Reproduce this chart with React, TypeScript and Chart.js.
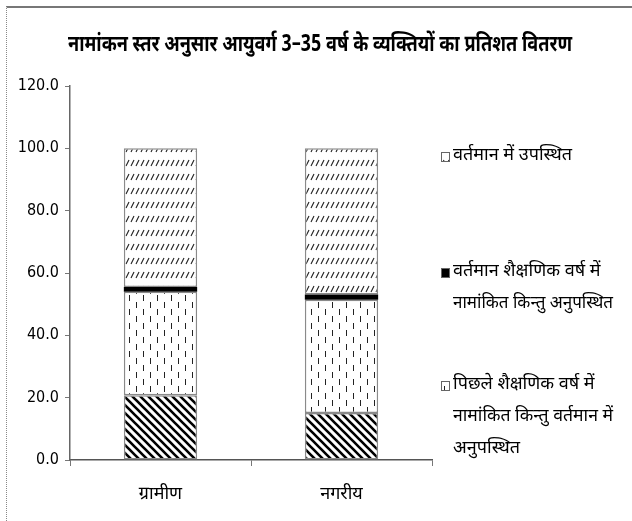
import React, { useEffect, useRef } from "react";
import Chart from "chart.js/auto";

const categories = ["ग्रामीण", "नगरीय"];
const neverEnrolled = [20.8, 15.1];
const prevYearEnrolledAbsent = [33.2, 36.3];
const currentYearEnrolledAbsent = [1.5, 1.7];
const currentlyPresent = [44.5, 46.9];
const titleText = "नामांकन स्तर अनुसार आयुवर्ग 3–35 वर्ष के व्यक्तियों का प्रतिशत वितरण";
const legendPresent = ["वर्तमान में उपस्थित"];
const legendCurrentAbsent = ["वर्तमान शैक्षणिक वर्ष में", "नामांकित किन्तु अनुपस्थित"];
const legendPrevAbsent = ["पिछले शैक्षणिक वर्ष में", "नामांकित किन्तु वर्तमान में", "अनुपस्थित"];
const yTicks = [0, 20, 40, 60, 80, 100, 120];

const FONT = "'Noto Sans Devanagari', 'Lohit Devanagari', 'Liberation Sans', sans-serif";
const NUMFONT = "'DejaVu Sans Condensed', 'Liberation Sans Narrow', 'Liberation Sans', sans-serif";

function makePattern(kind: string): CanvasPattern | string {
  const c = document.createElement("canvas");
  const ctx = c.getContext("2d")!;
  if (kind === "slash") {
    c.width = 5; c.height = 14;
    ctx.fillStyle = "#fff"; ctx.fillRect(0, 0, 5, 14);
    ctx.strokeStyle = "#222"; ctx.lineWidth = 1.1;
    ctx.beginPath(); ctx.moveTo(1, 12); ctx.lineTo(4, 6); ctx.stroke();
  } else if (kind === "dash") {
    c.width = 14; c.height = 14;
    ctx.fillStyle = "#fff"; ctx.fillRect(0, 0, 14, 14);
    ctx.fillStyle = "#222";
    ctx.fillRect(3, 1, 1, 6);
    ctx.fillRect(10, 8, 1, 6);
  } else if (kind === "back") {
    c.width = 8; c.height = 8;
    ctx.fillStyle = "#fff"; ctx.fillRect(0, 0, 8, 8);
    ctx.strokeStyle = "#000"; ctx.lineWidth = 2.6;
    ctx.beginPath();
    ctx.moveTo(-2, -2); ctx.lineTo(10, 10);
    ctx.moveTo(-2, 6); ctx.lineTo(2, 10);
    ctx.moveTo(6, -2); ctx.lineTo(10, 2);
    ctx.stroke();
  }
  return ctx.createPattern(c, "repeat") || "#fff";
}

function fillScaled(ctx: CanvasRenderingContext2D, text: string, x: number, y: number, width: number) {
  const w = ctx.measureText(text).width;
  const s = width / w;
  ctx.save();
  ctx.translate(x, y);
  ctx.scale(s, 1);
  ctx.textAlign = "center";
  ctx.fillText(text, 0, 0);
  ctx.restore();
}

export default function App() {
  const ref = useRef<HTMLCanvasElement>(null);
  useEffect(() => {
    document.body.style.margin = "0";
    const pSlash = makePattern("slash");
    const pDash = makePattern("dash");
    const pBack = makePattern("back");
    const legendItems = [
      { lines: legendPresent, fill: pSlash, y: 157 },
      { lines: legendCurrentAbsent, fill: "#000", y: 273 },
      { lines: legendPrevAbsent, fill: pDash, y: 386 },
    ];
    const overlay = {
      id: "overlay",
      afterDraw(chart: any) {
        const ctx = chart.ctx as CanvasRenderingContext2D;
        ctx.save();
        ctx.fillStyle = "#000";
        ctx.textBaseline = "middle";
        ctx.font = `bold 23px ${FONT}`;
        fillScaled(ctx, titleText, 320, 47, 504);
        ctx.textAlign = "left";
        ctx.font = `18px ${FONT}`;
        for (const it of legendItems) {
          ctx.fillStyle = it.fill as any;
          ctx.fillRect(441, it.y - 5, 9, 10);
          ctx.strokeStyle = "#666"; ctx.lineWidth = 1;
          ctx.strokeRect(441.5, it.y - 4.5, 8, 9);
          ctx.fillStyle = "#000";
          it.lines.forEach((t, i) => {
            const w = ctx.measureText(t).width;
            const s = Math.min(1, 160 / w);
            ctx.save();
            ctx.translate(453, it.y + i * 32);
            ctx.scale(s, 1);
            ctx.fillText(t, 0, 0);
            ctx.restore();
          });
        }
        ctx.restore();
      },
    };
    const border = { borderColor: "#8a8a8a", borderWidth: 1.5, borderSkipped: false as const };
    const chart = new Chart(ref.current!, {
      type: "bar",
      data: {
        labels: categories,
        datasets: [
          { label: "never", data: neverEnrolled, backgroundColor: pBack as any, ...border },
          { label: legendPrevAbsent.join(" "), data: prevYearEnrolledAbsent, backgroundColor: pDash as any, ...border },
          { label: legendCurrentAbsent.join(" "), data: currentYearEnrolledAbsent, backgroundColor: "#000", borderColor: "#000", borderWidth: 0, borderSkipped: false },
          { label: legendPresent.join(" "), data: currentlyPresent, backgroundColor: pSlash as any, ...border },
        ],
      },
      options: {
        responsive: false,
        animation: false,
        devicePixelRatio: 1,
        layout: { padding: { left: 8, right: 200, top: 86, bottom: 0 } },
        plugins: { legend: { display: false }, tooltip: { enabled: false }, title: { display: false } },
        datasets: { bar: { barPercentage: 0.81, categoryPercentage: 0.5 } },
        scales: {
          x: {
            stacked: true,
            border: { color: "#555", width: 1.5 },
            grid: { display: true, drawOnChartArea: false, offset: true, tickLength: 6, color: "#777" },
            ticks: { color: "#000", font: { family: FONT, size: 18 }, padding: 19 },
            afterFit: (s: any) => { s.height = 61; },
          },
          y: {
            stacked: true,
            min: 0,
            max: 120,
            afterBuildTicks: (s: any) => { s.ticks = yTicks.map((v) => ({ value: v })); },
            border: { color: "#666", width: 1.5 },
            grid: { display: true, drawOnChartArea: false, tickLength: 5, color: "#777" },
            ticks: {
              color: "#000",
              font: { family: NUMFONT, size: 16 },
              padding: 6,
              callback: (v: any) => Number(v).toFixed(1),
            },
            afterFit: (s: any) => { s.width = 62; },
          },
        },
      },
      plugins: [overlay],
    });
    return () => chart.destroy();
  }, []);
  return (
    <div style={{ position: "relative", width: 632, height: 521 }}>
      <div style={{ position: "absolute", left: 6, top: 6, right: 0, bottom: 0, borderTop: "2px solid #777", borderLeft: "1px dotted #888" }} />
      <canvas ref={ref} width={632} height={521} style={{ position: "absolute", left: 0, top: 0 }} />
    </div>
  );
}
